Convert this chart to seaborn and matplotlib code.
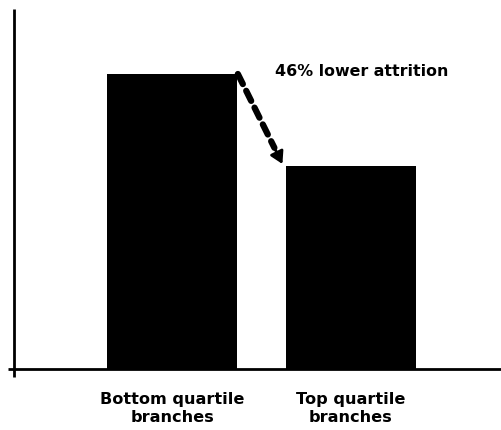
import matplotlib
matplotlib.use("Agg")
import matplotlib.pyplot as plt
import seaborn as sns
import pandas as pd

categories = ["Bottom quartile\nbranches", "Top quartile\nbranches"]
values = [29.5, 20.3]
annotation = "46% lower attrition"

sns.set_theme(style="white")
plt.rcParams["font.family"] = ["DejaVu Sans"]

df = pd.DataFrame({"category": categories, "value": values})

W, H = 502, 431
fig = plt.figure(figsize=(W / 100, H / 100), dpi=100)
ax = fig.add_axes([14 / W, (H - 370) / H, (W - 14) / W, 360 / H])

sns.barplot(data=df, x="category", y="value", color="black", width=0.726,
            saturation=1, edgecolor="none", ax=ax)

ax.set_xlim(-0.883, 1.844)
ax.set_ylim(0, 36)
ax.set_xlabel("")
ax.set_ylabel("")
ax.set_yticks([])
for s in ax.spines.values():
    s.set_visible(False)

# axis lines
ax.plot([-6 / 488, 1], [0, 0], transform=ax.transAxes, color="black", lw=2,
        clip_on=False, solid_capstyle="butt")
ax.plot([0, 0], [-8 / 360, 1], transform=ax.transAxes, color="black", lw=2,
        clip_on=False, solid_capstyle="butt")

ax.tick_params(axis="x", length=0, pad=16, labelcolor="black")
for lbl in ax.get_xticklabels():
    lbl.set_fontweight("bold")
    lbl.set_fontsize(11.6)
    lbl.set_linespacing(1.25)
    lbl.set_color("black")

# dashed arrow between bar tops
hw = 0.726 / 2
x0, y0 = 0 + hw + 0.005, values[0]
x1, y1 = 1 - hw - 0.02, values[1] + 0.2
fx = x0 + (x1 - x0) * 0.82
fy = y0 + (y1 - y0) * 0.82
ax.plot([x0, fx], [y0, fy], color="black", lw=4.5, linestyle=(0, (1.8, 1.2)),
        dash_capstyle="round")
ax.annotate("", xy=(x1, y1), xytext=(fx, fy),
            arrowprops=dict(arrowstyle="-|>,head_length=0.6,head_width=0.35",
                            color="black", lw=2, shrinkA=0, shrinkB=0))

ax.text(0.575, 29.8, annotation, ha="left", va="center", fontsize=11.4,
        fontweight="bold", color="black")

fig.savefig("out.png", dpi=100, facecolor="white")
